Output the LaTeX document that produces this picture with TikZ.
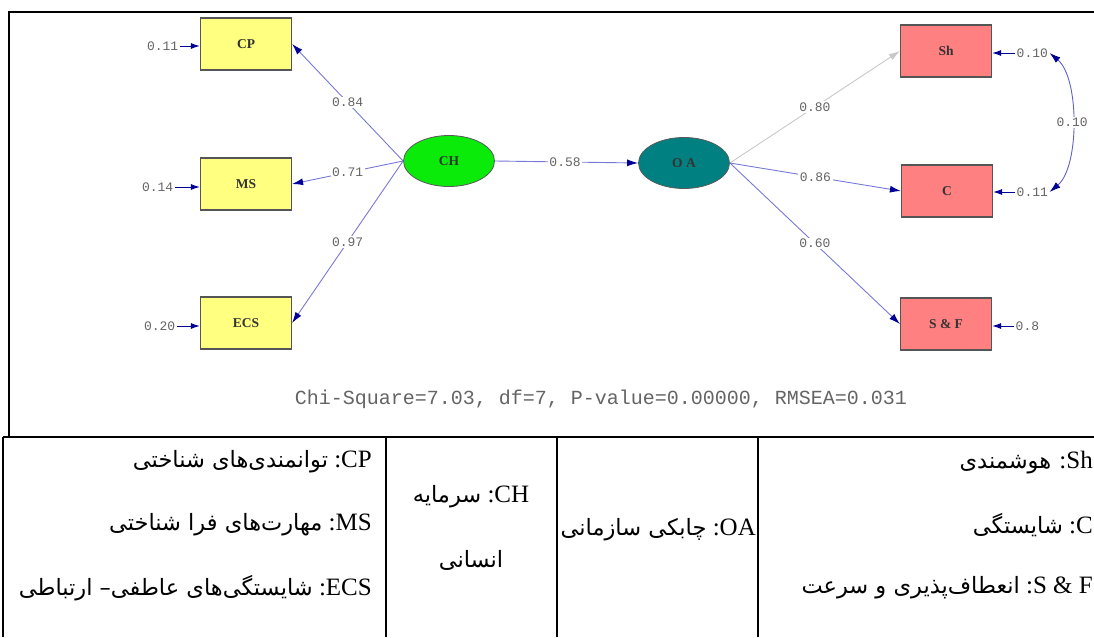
\documentclass[tikz,border=0pt]{standalone}
\usepackage{fontspec}
\setmainfont{Liberation Serif}
\newfontfamily\monof{Liberation Mono}
\newfontfamily\arabicfont[Script=Arabic]{DejaVu Sans}
\TeXXeTstate=1
\usetikzlibrary{arrows.meta,shapes.geometric}
\definecolor{ylw}{RGB}{255,255,128}
\definecolor{pnk}{RGB}{255,128,128}
\definecolor{grn}{RGB}{10,235,10}
\definecolor{tea}{RGB}{0,128,128}
\definecolor{lnblue}{RGB}{120,120,215}
\definecolor{navyb}{RGB}{0,0,150}
\definecolor{numgray}{RGB}{100,100,100}
\definecolor{boxedge}{RGB}{85,85,85}
\definecolor{lgray}{RGB}{200,200,200}
\newcommand\fa[1]{{\arabicfont\fontsize{22.5}{27}\selectfont #1}}
\begin{document}
\begin{tikzpicture}[x=1pt,y=-1pt,
  obs/.style={draw=boxedge,line width=1.2pt,minimum width=91pt,minimum height=52pt,inner sep=0pt,
    font=\fontsize{13.5}{15}\selectfont\bfseries,text=black!80},
  lat/.style={ellipse,draw=black!65,line width=0.8pt,minimum width=91pt,minimum height=51pt,inner sep=0pt,
    font=\fontsize{13.5}{15}\selectfont\bfseries,text=black!80},
  num/.style={font=\monof\fontsize{13}{15}\selectfont,text=numgray,inner sep=1.5pt},
  numw/.style={num,fill=white},
  ldg/.style={draw=lnblue,line width=0.9pt,-{Latex[length=11pt,width=7pt,color=navyb]}},
  ldggray/.style={draw=lgray,line width=0.9pt,-{Latex[length=11pt,width=7pt,color=lgray]}},
  err/.style={draw=navyb,line width=1pt,-{Latex[length=9pt,width=6pt]}},
  cov/.style={draw=lnblue!80!navyb,line width=0.9pt,{Latex[length=11pt,width=7pt,color=navyb]}-{Latex[length=11pt,width=7pt,color=navyb]}},
  frm/.style={line width=1.5pt,black},
  tab/.style={font=\fontsize{25}{30}\selectfont,inner sep=0pt}
]
\useasboundingbox (0,0) rectangle (1094,637);

% frame and table
\draw[frm] (9,437) -- (9,12) -- (1094,12);
\draw[frm] (3,437) -- (1094,437);
\draw[frm] (3,437) -- (3,637);
\draw[frm] (386,437) -- (386,637);
\draw[frm] (557,437) -- (557,637);
\draw[frm] (758,437) -- (758,637);

% observed variables
\node[obs,fill=ylw] (CP) at (246,44) {CP};
\node[obs,fill=ylw] (MS) at (246,184) {MS};
\node[obs,fill=ylw] (ECS) at (246,323) {ECS};
\node[obs,fill=pnk] (Sh) at (946,51) {Sh};
\node[obs,fill=pnk] (C) at (947,191) {C};
\node[obs,fill=pnk] (SF) at (946,324) {S \& F};

% latent variables
\node[lat,fill=grn] (CH) at (449,161) {CH};
\node[lat,fill=tea] (OA) at (684,163) {O A};

% paths
\draw[ldg] (CH.west) -- node[numw,pos=.5]{0.84} (CP.east);
\draw[ldg] (CH.west) -- node[numw,pos=.5]{0.71} (MS.east);
\draw[ldg] (CH.west) -- node[numw,pos=.5]{0.97} (ECS.east);
\draw[ldg] (CH.east) -- node[numw,pos=.49]{0.58} (OA.west);
\draw[ldggray] (OA.east) -- node[numw,pos=.5]{0.80} (Sh.west);
\draw[ldg] (OA.east) -- node[numw,pos=.5]{0.86} (C.west);
\draw[ldg] (OA.east) -- node[numw,pos=.5]{0.60} (SF.west);

% error terms
\node[num,anchor=east] (e1) at (180,46) {0.11};
\node[num,anchor=east] (e2) at (175,187) {0.14};
\node[num,anchor=east] (e3) at (177,326) {0.20};
\node[num,anchor=west] (e4) at (1015,53) {0.10};
\node[num,anchor=west] (e5) at (1015,192) {0.11};
\node[num,anchor=west] (e6) at (1014,326) {0.8};
\draw[err] (e1) -- (e1 -| CP.west);
\draw[err] (e2) -- (e2 -| MS.west);
\draw[err] (e3) -- (e3 -| ECS.west);
\draw[err] (e4) -- (e4 -| Sh.east);
\draw[err] (e5) -- (e5 -| C.east);
\draw[err] (e6) -- (e6 -| SF.east);

% covariance
\draw[cov] (e4.east) .. controls +(30,25) and +(30,-25) .. node[numw,pos=.5]{0.10} (e5.east);

% fit statistics
\node[font=\monof\fontsize{20}{24}\selectfont,text=numgray] (chi) at (601,399) {Chi-Square=7.03, df=7, P-value=0.00000, RMSEA=0.031};

% legend table
\node[tab,anchor=east] (t1) at (372,462) {\beginR\beginL CP\endL: \fa{توانمندی^^^^200cهای شناختی}\endR};
\node[tab,anchor=east] (t2) at (372,525) {\beginR\beginL MS\endL: \fa{مهارت^^^^200cهای فرا شناختی}\endR};
\node[tab,anchor=east] (t3) at (372,588) {\beginR\beginL ECS\endL: \fa{شایستگی^^^^200cهای عاطفی– ارتباطی}\endR};
\node[tab] (t4) at (471,497) {\beginR\beginL CH\endL: \fa{سرمایه}\endR};
\node[tab] (t5) at (471,560) {\fa{\beginR انسانی\endR}};
\node[tab,anchor=east] (t6) at (756,530) {\beginR\beginL OA\endL: \fa{چابکی سازمانی}\endR};
\node[tab,anchor=east] (t7) at (1093,463) {\beginR\beginL Sh\endL: \fa{هوشمندی}\endR};
\node[tab,anchor=east] (t8) at (1093,525) {\beginR\beginL C\endL: \fa{شایستگی}\endR};
\node[tab,anchor=east] (t9) at (1093,588) {\beginR\beginL S \& F\endL: \fa{انعطاف^^^^200cپذیری و سرعت}\endR};
\end{tikzpicture}
\end{document}
